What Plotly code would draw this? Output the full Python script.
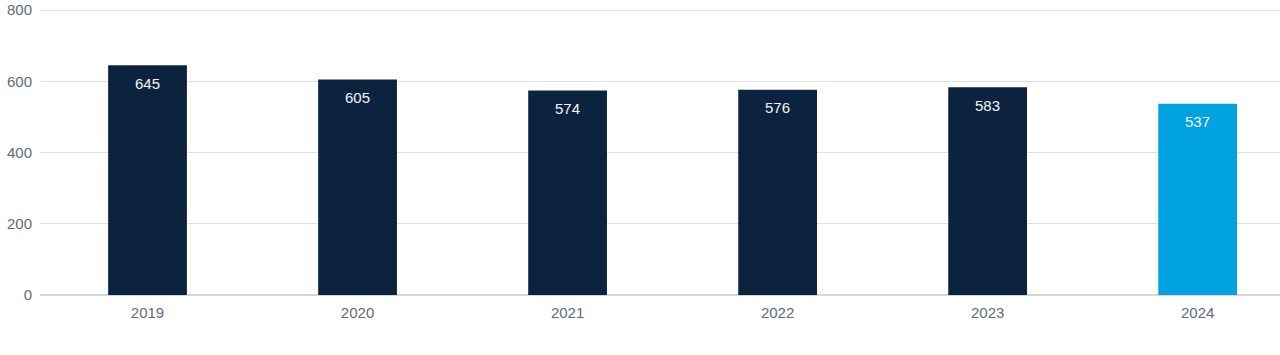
import plotly.graph_objects as go

years = ["2019", "2020", "2021", "2022", "2023", "2024"]
values = [645, 605, 574, 576, 583, 537]
colors = ["#0c2340", "#0c2340", "#0c2340", "#0c2340", "#0c2340", "#00a3e0"]

fig = go.Figure()
fig.add_trace(go.Bar(x=years, y=values, marker=dict(color=colors, line=dict(width=0)),
                     hoverinfo="skip"))

for i, v in enumerate(values):
    fig.add_annotation(x=i, y=v, xref="x", yref="y", text=str(v), showarrow=False,
                       yanchor="middle", yshift=-18,
                       font=dict(color="#f2f5f9", size=15, family="Liberation Sans, Arial"))

fig.update_layout(
    width=1280, height=355,
    margin=dict(l=40, r=0, t=9, b=60),
    paper_bgcolor="white", plot_bgcolor="white",
    bargap=0.625,
    showlegend=False,
    font=dict(family="Liberation Sans, Arial", size=15, color="#5f6b78"),
    xaxis=dict(type="category", range=[-0.512, 5.392], showgrid=False, showline=False,
               ticks="outside", ticklen=4, tickcolor="rgba(0,0,0,0)", tickfont=dict(size=15, color="#5f6b78")),
    yaxis=dict(range=[0, 803], tickvals=[0, 200, 400, 600, 800], showgrid=True,
               gridcolor="#dcdfe8", gridwidth=1, zeroline=True, zerolinecolor="#d3d6df",
               zerolinewidth=1.5, showline=False, ticks="outside", ticklen=4,
               tickcolor="rgba(0,0,0,0)", tickfont=dict(size=15, color="#5f6b78")),
)

fig.write_html("out.html", config={"displayModeBar": False},
               post_script="document.body.style.margin='0';document.body.style.padding='0';")
